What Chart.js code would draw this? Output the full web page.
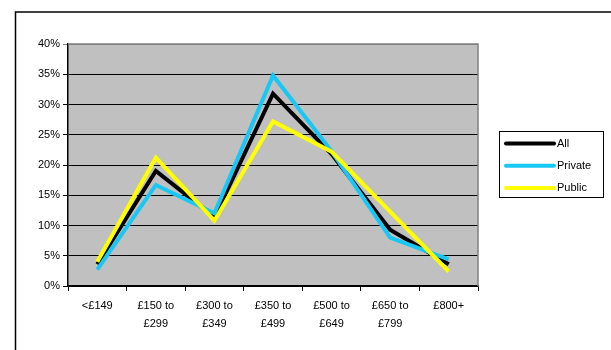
<!DOCTYPE html>
<html>
<head>
<meta charset="utf-8">
<script src="https://cdn.jsdelivr.net/npm/chart.js@4/dist/chart.umd.min.js"></script>
<style>
  html, body { margin: 0; padding: 0; background: #fff; }
  #wrap { width: 611px; height: 350px; }
</style>
</head>
<body>
<div id="wrap"><canvas id="c" width="611" height="350"></canvas></div>
<script>
// Price bands along the x axis
const categories = ['<£149', ['£150 to', '£299'], ['£300 to', '£349'], ['£350 to', '£499'],
                    ['£500 to', '£649'], ['£650 to', '£799'], '£800+'];

// Share of respondents in each band (%)
const allValues     = [3.6, 19.0, 11.4, 31.8, 21.8, 9.3, 3.6];
const privateValues = [2.7, 16.7, 12.0, 34.8, 22.3, 8.0, 4.4];
const publicValues  = [4.0, 21.2, 10.8, 27.2, 22.2, 12.3, 2.4];

const seriesNames = ['All', 'Private', 'Public'];
const yTicks = [0, 5, 10, 15, 20, 25, 30, 35, 40];

const FONT = 'Arial, "Liberation Sans", sans-serif';

// Outer frame, grey plot background and plot border
const framePlugin = {
  id: 'frame',
  beforeDraw(chart) {
    const ctx = chart.ctx;
    const a = chart.chartArea;
    ctx.save();
    ctx.fillStyle = '#ffffff';
    ctx.fillRect(0, 0, chart.width, chart.height);
    ctx.strokeStyle = '#000000';
    ctx.lineWidth = 1.5;
    ctx.strokeRect(15.5, 12, 700, 400);
    ctx.fillStyle = '#C0C0C0';
    ctx.fillRect(a.left, a.top, a.right - a.left, a.bottom - a.top);
    ctx.restore();
  },
  afterDraw(chart) {
    const ctx = chart.ctx;
    const a = chart.chartArea;
    ctx.save();
    ctx.strokeStyle = '#808080';
    ctx.lineWidth = 1.5;
    ctx.beginPath();
    ctx.moveTo(a.left, a.top);
    ctx.lineTo(a.right, a.top);
    ctx.lineTo(a.right, a.bottom);
    ctx.stroke();
    ctx.restore();
  }
};

// Boxed legend on the right
const boxLegendPlugin = {
  id: 'boxLegend',
  afterDraw(chart) {
    const ctx = chart.ctx;
    const bx = 499.5, by = 131.5, bw = 104, bh = 66;
    ctx.save();
    ctx.strokeStyle = '#000000';
    ctx.lineWidth = 1;
    ctx.strokeRect(bx, by, bw, bh);
    ctx.font = '11px ' + FONT;
    ctx.textBaseline = 'middle';
    ctx.textAlign = 'left';
    chart.data.datasets.forEach((ds, i) => {
      const y = by + 12 + i * 22.2;
      ctx.strokeStyle = ds.borderColor;
      ctx.lineWidth = 4;
      ctx.lineCap = 'round';
      ctx.beginPath();
      ctx.moveTo(506, y);
      ctx.lineTo(554, y);
      ctx.stroke();
      ctx.fillStyle = '#000000';
      ctx.fillText(ds.label, 557, y + 0.5);
    });
    ctx.restore();
  }
};

const ctx = document.getElementById('c').getContext('2d');
new Chart(ctx, {
  type: 'line',
  data: {
    labels: categories,
    datasets: [
      { label: seriesNames[0], data: allValues, borderColor: '#000000', order: 3 },
      { label: seriesNames[1], data: privateValues, borderColor: '#18C8F4', order: 2 },
      { label: seriesNames[2], data: publicValues, borderColor: '#FFFF00', order: 1 }
    ].map(d => Object.assign(d, {
      borderWidth: 4,
      pointRadius: 0,
      pointHoverRadius: 0,
      tension: 0,
      fill: false,
      borderJoinStyle: 'miter'
    }))
  },
  options: {
    responsive: false,
    animation: false,
    events: [],
    layout: { padding: { left: 16, top: 44, right: 133, bottom: 0 } },
    plugins: {
      legend: { display: false },
      tooltip: { enabled: false }
    },
    scales: {
      x: {
        offset: true,
        afterFit(s) { s.height = 64; },
        grid: {
          offset: true,
          drawOnChartArea: false,
          drawTicks: true,
          tickLength: 5,
          color: '#000000',
          lineWidth: 1
        },
        border: { display: true, color: '#000000', width: 1.5 },
        ticks: {
          color: '#000000',
          font: { family: FONT, size: 11, lineHeight: 1.65 },
          padding: 6,
          maxRotation: 0,
          autoSkip: false
        }
      },
      y: {
        min: 0,
        max: 40,
        afterFit(s) { s.width = 52; },
        afterBuildTicks(s) { s.ticks = yTicks.map(v => ({ value: v })); },
        grid: {
          color: c => (c.tick && c.tick.value === 40 ? '#808080' : '#000000'),
          lineWidth: 1,
          drawTicks: true,
          tickLength: 5
        },
        border: { display: true, color: '#000000', width: 1.5 },
        ticks: {
          color: '#000000',
          font: { family: FONT, size: 11 },
          padding: 3,
          callback: v => v + '%'
        }
      }
    }
  },
  plugins: [framePlugin, boxLegendPlugin]
});
</script>
</body>
</html>
